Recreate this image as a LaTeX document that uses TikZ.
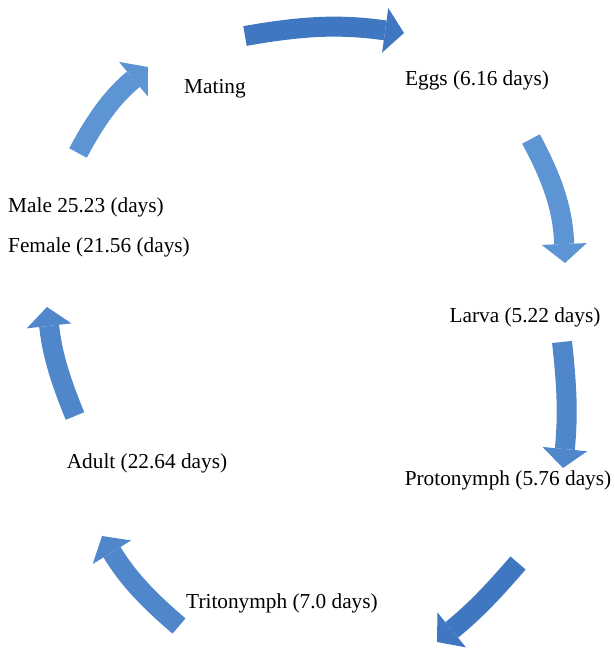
\documentclass[tikz,border=0pt]{standalone}
\usepackage{fontspec}
\setmainfont{Liberation Serif}
\usetikzlibrary{arrows.meta}
\definecolor{adark}{RGB}{64,119,193}
\definecolor{amid}{RGB}{80,135,202}
\definecolor{alight}{RGB}{92,148,212}
\begin{document}
\begin{tikzpicture}[x=1pt,y=1pt,
  lbl/.style={inner sep=0pt, font=\fontsize{21.3}{25}\selectfont},
  cyc/.style={line width=20pt, -{Triangle[length=19pt,width=45pt,line width=0pt]}},
]
\useasboundingbox (0,0) rectangle (615,656);
% labels
\node[lbl] (mating) at (215,567) {Mating};
\node[lbl] (eggs) at (477,576) {Eggs (6.16 days)};
\node[lbl, anchor=west] (male) at (8,449) {Male 25.23 (days)};
\node[lbl, anchor=west] (female) at (8,409) {Female (21.56 (days)};
\node[lbl] (larva) at (525,339) {Larva (5.22 days)};
\node[lbl] (proto) at (508,176) {Protonymph (5.76 days)};
\node[lbl] (adult) at (147,193) {Adult (22.64 days)};
\node[lbl] (trito) at (282,53) {Tritonymph (7.0 days)};
% arrow end points
\coordinate (t1) at (245,620); \coordinate (p1) at (404,623);
\coordinate (t2) at (531,517); \coordinate (p2) at (565,393);
\coordinate (t3) at (562,314); \coordinate (p3) at (563,188);
\coordinate (t4) at (518,93);  \coordinate (p4) at (437,14);
\coordinate (t5) at (179,30);  \coordinate (p5) at (102,120);
\coordinate (t6) at (75,240);  \coordinate (p6) at (47,349);
\coordinate (t7) at (78,503);  \coordinate (p7) at (148,589);
% arrows
\draw[cyc, adark]  (t1) to[bend left=9]  (p1);
\draw[cyc, alight] (t2) to[bend left=13] (p2);
\draw[cyc, amid]   (t3) to[bend left=6]  (p3);
\draw[cyc, adark]  (t4) to[bend left=5]  (p4);
\draw[cyc, amid]   (t5) to[bend left=9]  (p5);
\draw[cyc, amid]   (t6) to[bend left=8]  (p6);
\draw[cyc, alight] (t7) to[bend left=11] (p7);
\end{tikzpicture}
\end{document}
